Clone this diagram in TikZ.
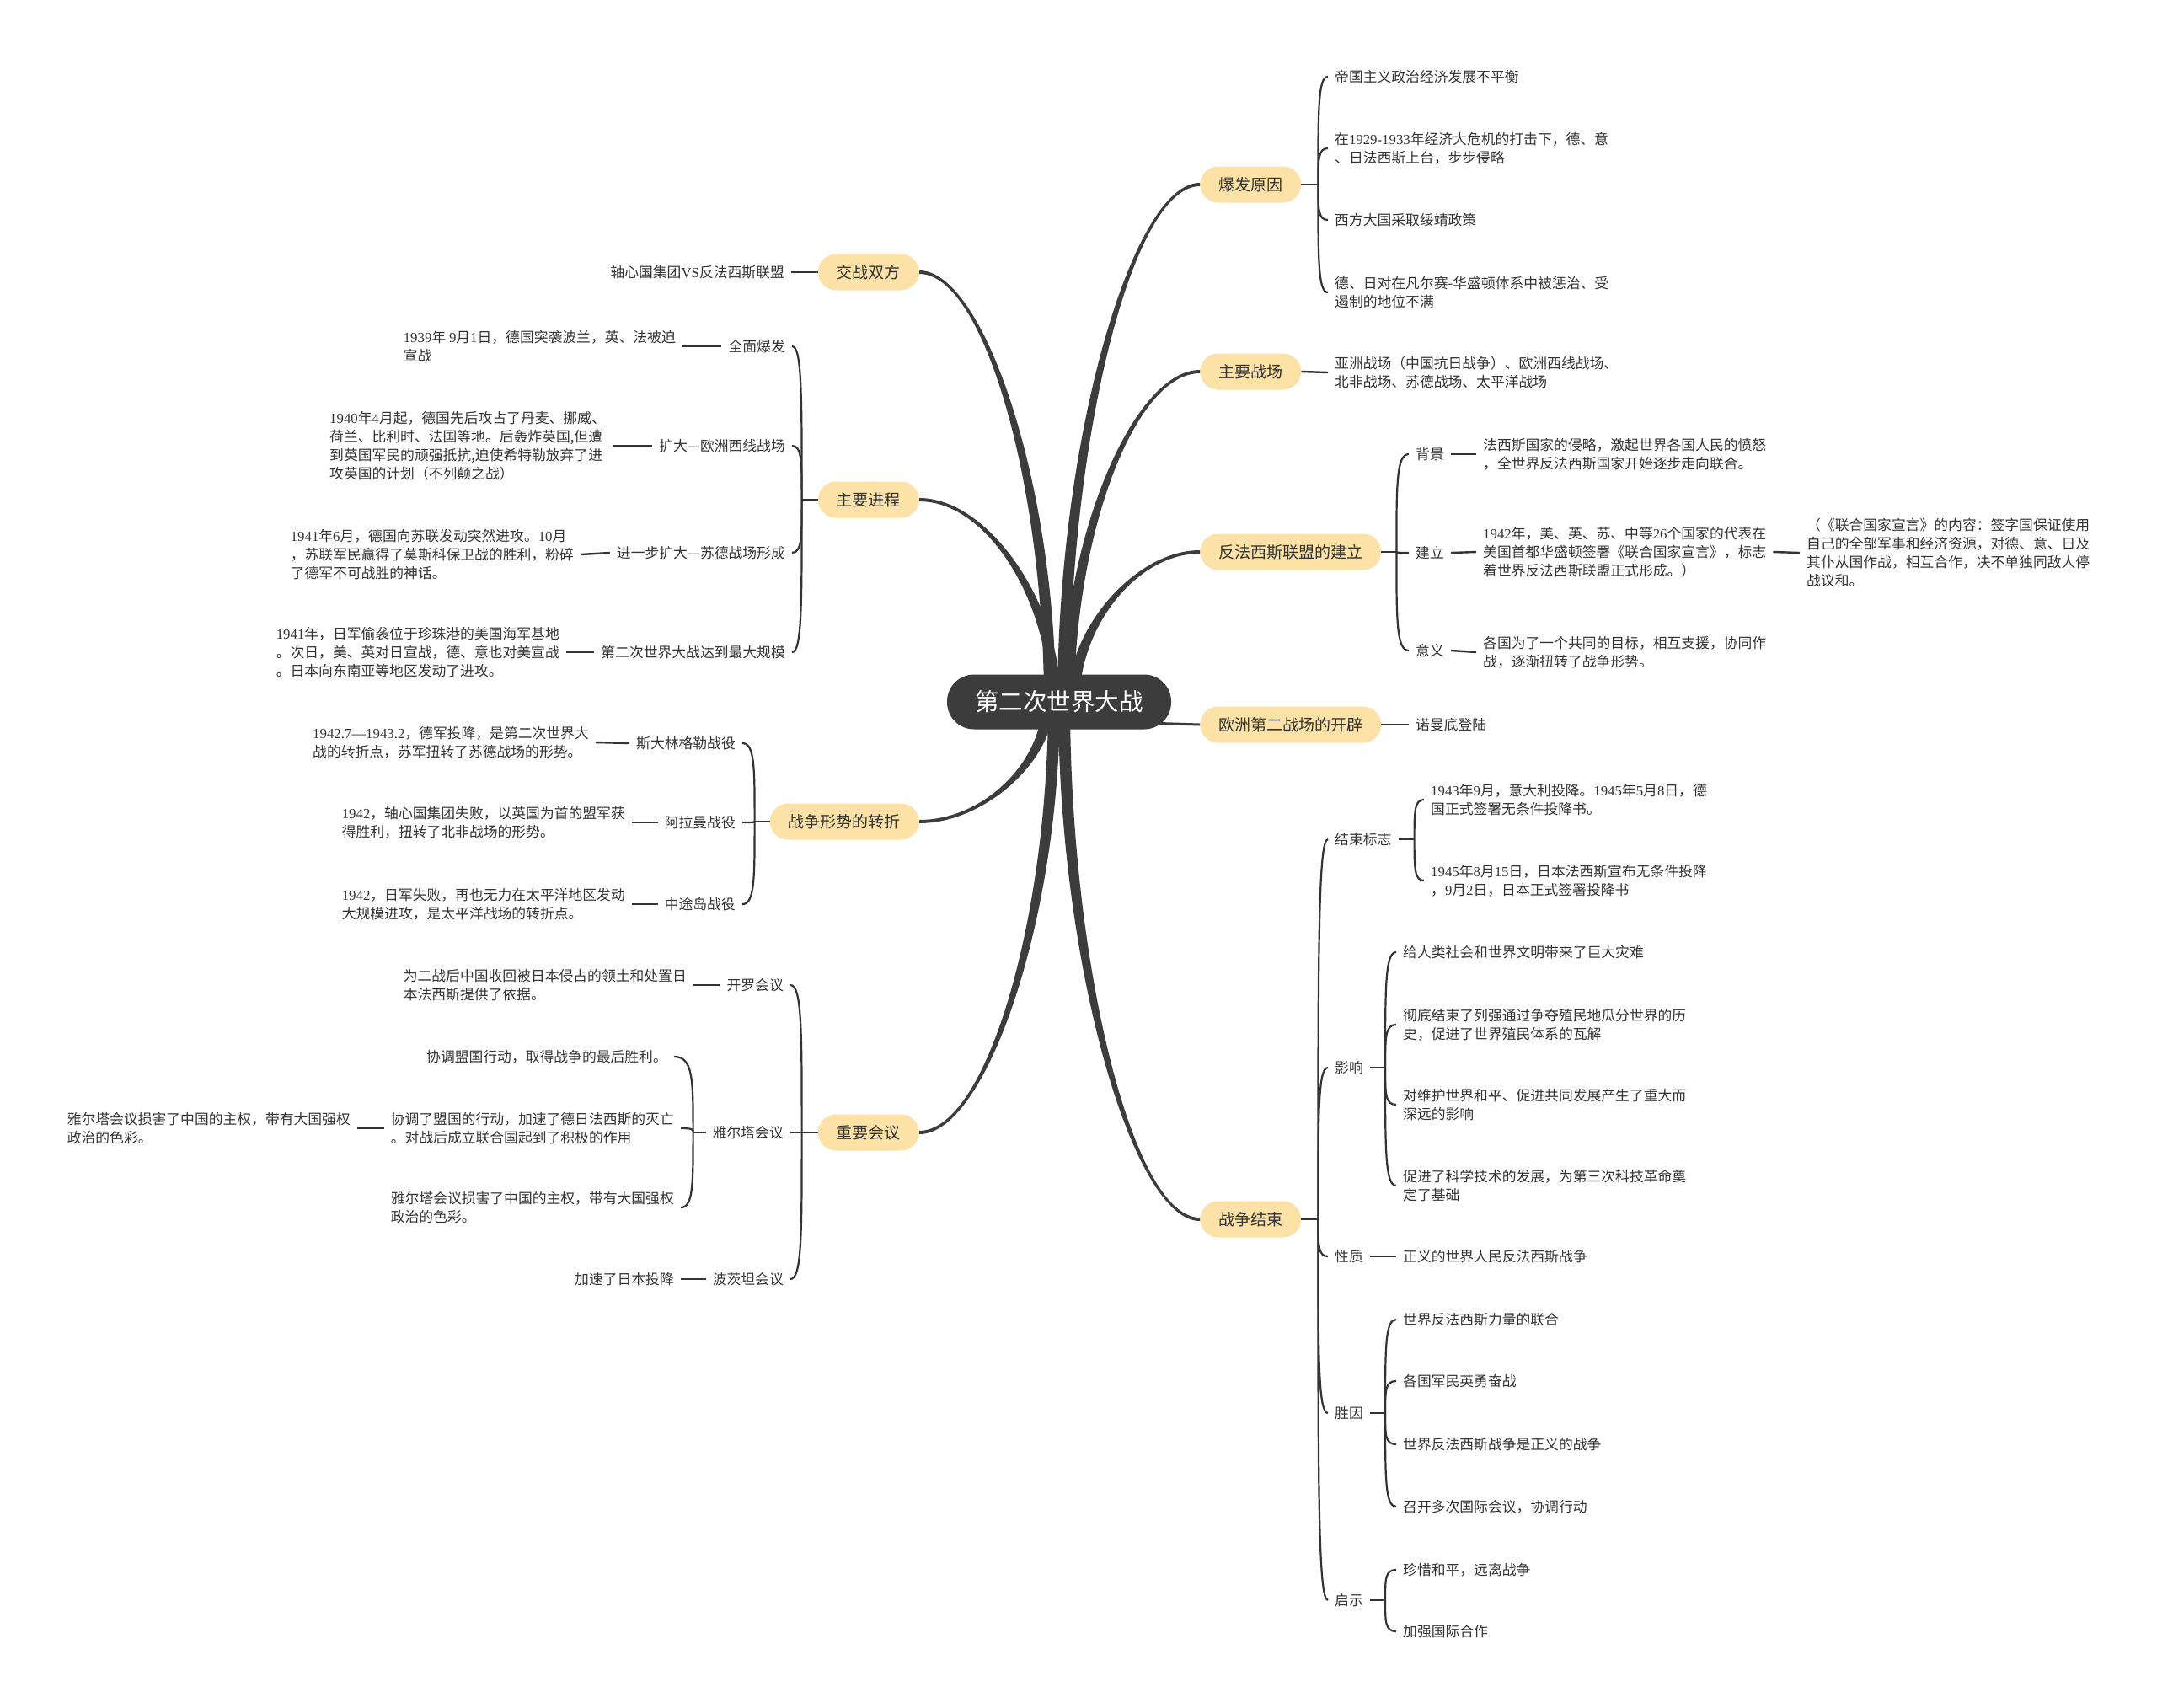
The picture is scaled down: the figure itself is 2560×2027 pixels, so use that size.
\documentclass[tikz,border=0pt]{standalone}
\usepackage{fontspec}
\setmainfont{Noto Sans CJK SC}
\newfontfamily\nf{Liberation Serif}
\usetikzlibrary{calc}
\definecolor{pillc}{HTML}{FCE2A6}
\definecolor{lnc}{HTML}{333333}
\definecolor{txt}{HTML}{333333}
\definecolor{cen}{HTML}{3C3C3C}
\newcommand\nm[1]{{\nf #1}}
% tapered main branch: start coordinate, end anchor, sign
\newcommand\tb[3]{%
 \fill[cen] let \p1=(#1), \p2=(#2) in
 ({\x1-(#3)*7},\y1) .. controls ({\x1-(#3)*7},{0.5*(\y1+\y2)}) and ({0.5*(\x1+\x2)},{\y2+2}) .. (\x2,{\y2+2})
 -- (\x2,{\y2-2}) .. controls ({0.5*(\x1+\x2)},{\y2-2}) and ({\x1+(#3)*7},{0.5*(\y1+\y2)}) .. ({\x1+(#3)*7},\y1) -- cycle;}
% bracket curve from trunk point to child anchor
\newcommand\cv[2]{\draw[br] let \p1=(#1), \p2=(#2) in (\p1) .. controls (\x1,{\y1+0.7*(\y2-\y1)}) and (\x1,\y2) .. (\p2);}
\begin{document}
\begin{tikzpicture}[x=1pt,y=-1pt,
 pill/.style={fill=pillc, text=txt, rounded corners=21.5pt, minimum height=43pt, inner xsep=22pt, inner ysep=0pt, font=\fontsize{19}{22}\selectfont},
 tx/.style={text=txt, align=left, inner xsep=8pt, inner ysep=3pt, font=\fontsize{16.8}{22}\selectfont},
 txw/.style={tx, anchor=west},
 txe/.style={tx, anchor=east},
 ln/.style={draw=lnc, line width=2.4pt},
 br/.style={draw=lnc, line width=2.2pt}]
\fill[white] (0,0) rectangle (2560,2027);
\useasboundingbox (0,0) rectangle (2560,2027);

% ---------- level 1 pills ----------
\node[pill, anchor=west] (by) at (1424,219) {爆发原因};
\node[pill, anchor=west] (zc) at (1424,441) {主要战场};
\node[pill, anchor=west] (fl) at (1424,655) {反法西斯联盟的建立};
\node[pill, anchor=west] (oz) at (1424,860) {欧洲第二战场的开辟};
\node[pill, anchor=west] (js) at (1424,1447) {战争结束};
\node[pill, anchor=east] (jz) at (1091,323) {交战双方};
\node[pill, anchor=east] (jc) at (1091,593) {主要进程};
\node[pill, anchor=east] (zz) at (1091,975) {战争形势的转折};
\node[pill, anchor=east] (hy) at (1091,1344) {重要会议};

% ---------- right: 爆发原因 ----------
\node[txw] (by1) at (1576,91) {帝国主义政治经济发展不平衡};
\node[txw] (by2) at (1576,176) {在\nm{1929-1933}年经济大危机的打击下，德、意\\、日法西斯上台，步步侵略};
\node[txw] (by3) at (1576,261) {西方大国采取绥靖政策};
\node[txw] (by4) at (1576,347) {德、日对在凡尔赛-华盛顿体系中被惩治、受\\遏制的地位不满};
% 主要战场
\node[txw] (zc1) at (1576,442) {亚洲战场（中国抗日战争）、欧洲西线战场、\\北非战场、苏德战场、太平洋战场};
% 反法西斯联盟的建立
\node[txw] (fl1) at (1672,539) {背景};
\node[txw] (fl2) at (1672,656) {建立};
\node[txw] (fl3) at (1672,772) {意义};
\node[txw] (fl1a) at (1752,539) {法西斯国家的侵略，激起世界各国人民的愤怒\\，全世界反法西斯国家开始逐步走向联合。};
\node[txw] (fl2a) at (1752,655) {\nm{1942}年，美、英、苏、中等\nm{26}个国家的代表在\\美国首都华盛顿签署《联合国家宣言》，标志\\着世界反法西斯联盟正式形成。）};
\node[txw] (fl2b) at (2136,656) {（《联合国家宣言》的内容：签字国保证使用\\自己的全部军事和经济资源，对德、意、日及\\其仆从国作战，相互合作，决不单独同敌人停\\战议和。};
\node[txw] (fl3a) at (1752,774) {各国为了一个共同的目标，相互支援，协同作\\战，逐渐扭转了战争形势。};
% 欧洲第二战场的开辟
\node[txw] (oz1) at (1672,860) {诺曼底登陆};
% 战争结束
\node[txw] (js1) at (1576,996) {结束标志};
\node[txw] (js2) at (1576,1267) {影响};
\node[txw] (js3) at (1576,1491) {性质};
\node[txw] (js4) at (1576,1677) {胜因};
\node[txw] (js5) at (1576,1899) {启示};
\node[txw] (js1a) at (1690,949) {\nm{1943}年\nm{9}月，意大利投降。\nm{1945}年\nm{5}月\nm{8}日，德\\国正式签署无条件投降书。};
\node[txw] (js1b) at (1690,1045) {\nm{1945}年\nm{8}月\nm{15}日，日本法西斯宣布无条件投降\\，\nm{9}月\nm{2}日，日本正式签署投降书};
\node[txw] (js2a) at (1657,1130) {给人类社会和世界文明带来了巨大灾难};
\node[txw] (js2b) at (1657,1216) {彻底结束了列强通过争夺殖民地瓜分世界的历\\史，促进了世界殖民体系的瓦解};
\node[txw] (js2c) at (1657,1311) {对维护世界和平、促进共同发展产生了重大而\\深远的影响};
\node[txw] (js2d) at (1657,1407) {促进了科学技术的发展，为第三次科技革命奠\\定了基础};
\node[txw] (js3a) at (1657,1491) {正义的世界人民反法西斯战争};
\node[txw] (js4a) at (1657,1566) {世界反法西斯力量的联合};
\node[txw] (js4b) at (1657,1639) {各国军民英勇奋战};
\node[txw] (js4c) at (1657,1714) {世界反法西斯战争是正义的战争};
\node[txw] (js4d) at (1657,1788) {召开多次国际会议，协调行动};
\node[txw] (js5a) at (1657,1863) {珍惜和平，远离战争};
\node[txw] (js5b) at (1657,1936) {加强国际合作};

% ---------- left: 交战双方 ----------
\node[txe] (jz1) at (939,323) {轴心国集团\nm{VS}反法西斯联盟};
% 主要进程
\node[txe] (jc1) at (940,411) {全面爆发};
\node[txe] (jc2) at (940,529) {扩大—欧洲西线战场};
\node[txe] (jc3) at (940,656) {进一步扩大—苏德战场形成};
\node[txe] (jc4) at (940,774) {第二次世界大战达到最大规模};
\node[txe] (jc1a) at (810,411) {\nm{1939}年 \nm{9}月\nm{1}日，德国突袭波兰，英、法被迫\\宣战};
\node[txe] (jc2a) at (727,529) {\nm{1940}年\nm{4}月起，德国先后攻占了丹麦、挪威、\\荷兰、比利时、法国等地。后轰炸英国,但遭\\到英国军民的顽强抵抗,迫使希特勒放弃了进\\攻英国的计划（不列颠之战）};
\node[txe] (jc3a) at (689,658) {\nm{1941}年\nm{6}月，德国向苏联发动突然进攻。\nm{10}月\\，苏联军民赢得了莫斯科保卫战的胜利，粉碎\\了德军不可战胜的神话。};
\node[txe] (jc4a) at (672,774) {\nm{1941}年，日军偷袭位于珍珠港的美国海军基地\\。次日，美、英对日宣战，德、意也对美宣战\\。日本向东南亚等地区发动了进攻。};
% 战争形势的转折
\node[txe] (zz1) at (881,882) {斯大林格勒战役};
\node[txe] (zz2) at (881,976) {阿拉曼战役};
\node[txe] (zz3) at (881,1073) {中途岛战役};
\node[txe] (zz1a) at (707,881) {\nm{1942.7—1943.2}，德军投降，是第二次世界大\\战的转折点，苏军扭转了苏德战场的形势。};
\node[txe] (zz2a) at (750,976) {\nm{1942}，轴心国集团失败，以英国为首的盟军获\\得胜利，扭转了北非战场的形势。};
\node[txe] (zz3a) at (750,1073) {\nm{1942}，日军失败，再也无力在太平洋地区发动\\大规模进攻，是太平洋战场的转折点。};
% 重要会议
\node[txe] (hy1) at (938,1169) {开罗会议};
\node[txe] (hy2) at (938,1344) {雅尔塔会议};
\node[txe] (hy3) at (938,1518) {波茨坦会议};
\node[txe] (hy1a) at (823,1169) {为二战后中国收回被日本侵占的领土和处置日\\本法西斯提供了依据。};
\node[txe] (hy2a) at (800,1254) {协调盟国行动，取得战争的最后胜利。};
\node[txe] (hy2b) at (808,1339) {协调了盟国的行动，加速了德日法西斯的灭亡\\。对战后成立联合国起到了积极的作用};
\node[txe] (hy2c) at (808,1433) {雅尔塔会议损害了中国的主权，带有大国强权\\政治的色彩。};
\node[txe] (hy2ba) at (424,1339) {雅尔塔会议损害了中国的主权，带有大国强权\\政治的色彩。};
\node[txe] (hy3a) at (808,1518) {加速了日本投降};

% ---------- trunk points ----------
\coordinate (tby) at ([xshift=20pt]by.east);
\coordinate (tfl) at ([xshift=18pt]fl.east);
\coordinate (tjs) at ([xshift=20pt]js.east);
\coordinate (tjs1) at ([xshift=19pt]js1.east);
\coordinate (tjs2) at ([xshift=18pt]js2.east);
\coordinate (tjs4) at ([xshift=18pt]js4.east);
\coordinate (tjs5) at ([xshift=18pt]js5.east);
\coordinate (tjc) at ([xshift=-19pt]jc.west);
\coordinate (tzz) at ([xshift=-18pt]zz.west);
\coordinate (thy) at ([xshift=-19pt]hy.west);
\coordinate (thy2) at ([xshift=-15pt]hy2.west);

% ---------- stubs and straight connectors ----------
\foreach \p/\t in {by/tby, fl/tfl, js/tjs, js1/tjs1, js2/tjs2, js4/tjs4, js5/tjs5}
  \draw[ln] (\p.east) -- (\t);
\foreach \p/\t in {jc/tjc, zz/tzz, hy/thy, hy2/thy2}
  \draw[ln] (\p.west) -- (\t);
\foreach \a/\b in {zc/zc1, fl1/fl1a, fl2/fl2a, fl3/fl3a, fl2a/fl2b, oz/oz1, js3/js3a}
  \draw[ln] (\a.east) -- (\b.west);
\foreach \a/\b in {jz/jz1, jc1/jc1a, jc2/jc2a, jc3/jc3a, jc4/jc4a, zz1/zz1a, zz2/zz2a, zz3/zz3a, hy1/hy1a, hy2b/hy2ba, hy3/hy3a}
  \draw[ln] (\a.west) -- (\b.east);

% ---------- bracket curves ----------
\foreach \c in {by1,by2,by3,by4} {\cv{tby}{\c.west}}
\foreach \c in {fl1,fl2,fl3} {\cv{tfl}{\c.west}}
\foreach \c in {js1,js2,js3,js4,js5} {\cv{tjs}{\c.west}}
\foreach \c in {js1a,js1b} {\cv{tjs1}{\c.west}}
\foreach \c in {js2a,js2b,js2c,js2d} {\cv{tjs2}{\c.west}}
\foreach \c in {js4a,js4b,js4c,js4d} {\cv{tjs4}{\c.west}}
\foreach \c in {js5a,js5b} {\cv{tjs5}{\c.west}}
\foreach \c in {jc1,jc2,jc3,jc4} {\cv{tjc}{\c.east}}
\foreach \c in {zz1,zz2,zz3} {\cv{tzz}{\c.east}}
\foreach \c in {hy1,hy2,hy3} {\cv{thy}{\c.east}}
\foreach \c in {hy2a,hy2b,hy2c} {\cv{thy2}{\c.east}}

% ---------- main tapered branches ----------
\coordinate (sjz) at (1246,833);
\coordinate (sjc) at (1252,833);
\coordinate (sby) at (1262,833);
\coordinate (szc) at (1268,833);
\coordinate (sfl) at (1274,833);
\coordinate (szz) at (1244,833);
\coordinate (shy) at (1251,833);
\coordinate (sjs) at (1263,833);
\coordinate (soz) at (1360,858);
\tb{sjz}{jz.east}{-1}
\tb{sjc}{jc.east}{-1}
\tb{sby}{by.west}{1}
\tb{szc}{zc.west}{1}
\tb{sfl}{fl.west}{1}
\tb{szz}{zz.east}{1}
\tb{shy}{hy.east}{1}
\tb{sjs}{js.west}{-1}
\draw[cen, line width=3pt] (soz) -- (oz.west);

% ---------- centre ----------
\node[fill=cen, text=white, rounded corners=32pt, minimum width=266pt, minimum height=65pt, inner sep=0pt, font=\fontsize{28.5}{30}\selectfont] (c) at (1257,833) {第二次世界大战};
\end{tikzpicture}
\end{document}
